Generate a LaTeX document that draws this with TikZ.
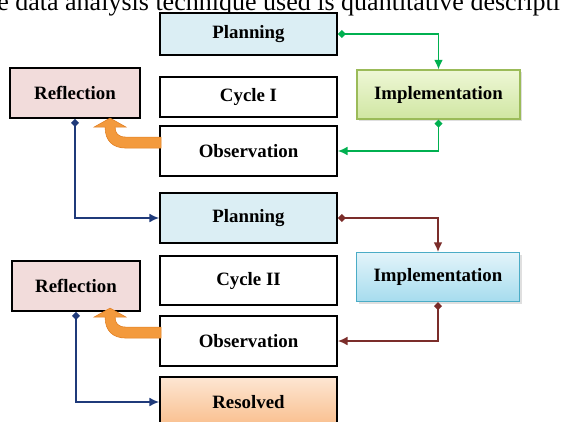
\documentclass[tikz,border=0pt]{standalone}
\usepackage{fontspec}
\setmainfont{Liberation Serif}
\usetikzlibrary{arrows.meta,shadows}

\definecolor{planblue}{HTML}{DBEEF4}
\definecolor{reflpink}{HTML}{F2DCDB}
\definecolor{implgreenA}{HTML}{EEF7D6}
\definecolor{implgreenB}{HTML}{D0E6A2}
\definecolor{implgreenline}{HTML}{9BBB59}
\definecolor{implcyanA}{HTML}{E3F4FA}
\definecolor{implcyanB}{HTML}{A6DCEE}
\definecolor{implcyanline}{HTML}{4BACC6}
\definecolor{resA}{HTML}{FDE6D3}
\definecolor{resB}{HTML}{F9BE8C}
\definecolor{linegreen}{HTML}{00B050}
\definecolor{linenavy}{HTML}{1F3A7A}
\definecolor{linebrown}{HTML}{7B2D2A}
\definecolor{bendorange}{HTML}{F39A3D}
\definecolor{bendedge}{HTML}{E07F22}

\begin{document}
\begin{tikzpicture}[x=0.025cm,y=-0.025cm,
    box/.style={draw=black,line width=1.3pt,minimum width=4.425cm,
      font=\bfseries\fontsize{13.4}{15}\selectfont,inner sep=0pt},
    implbox/.style={box,line width=0.8pt,minimum width=4.075cm,minimum height=1.225cm,
      drop shadow={opacity=0.25,shadow xshift=0.6mm,shadow yshift=-0.6mm}},
    conn/.style={line width=1pt,
      {Diamond[length=2mm,width=2mm]}-{Latex[length=2.4mm,width=2.2mm]}}]
    \useasboundingbox (0,0) rectangle (565,421);
    \clip (0,0) rectangle (565,421);

    % text line cut off above the figure
    \node[anchor=base west,inner sep=0pt,font=\fontsize{18.5}{20}\selectfont] (caption) at (-3,10)
      {e data analysis technique used is quantitative descripti};

    % cycle I
    \node[box,fill=planblue,minimum height=1.05cm] (planA) at (248.5,34) {Planning};
    \node[box,fill=white,minimum height=1cm] (cycA) at (248.5,97) {Cycle I};
    \node[box,fill=white,minimum height=1.25cm] (obsA) at (248.5,151) {Observation};
    \node[box,fill=reflpink,minimum width=3.25cm,minimum height=1.25cm] (reflA) at (75,93) {Reflection};
    \node[implbox,draw=implgreenline,top color=implgreenA,bottom color=implgreenB] (impA) at (438.5,94.5) {Implementation};

    % cycle II
    \node[box,fill=planblue,minimum height=1.25cm] (planB) at (248.5,218) {Planning};
    \node[box,fill=white,minimum height=1.225cm] (cycB) at (248.5,280.5) {Cycle II};
    \node[box,fill=white,minimum height=1.25cm] (obsB) at (248.5,341) {Observation};
    \node[box,fill=reflpink,minimum width=3.2cm,minimum height=1.25cm] (reflB) at (76,286) {Reflection};
    \node[implbox,draw=implcyanline,top color=implcyanA,bottom color=implcyanB] (impB) at (438,277) {Implementation};

    \node[box,top color=resA,bottom color=resB,minimum height=1.25cm] (resolved) at (248.5,402) {Resolved};

    % connectors
    \draw[conn,linegreen] (planA.east) -| (impA.north);
    \draw[conn,linegreen] (impA.south) |- (obsA.east);
    \draw[conn,linenavy] (reflA.south) |- (planB.west);
    \draw[conn,linebrown] (planB.east) -| (impB.north);
    \draw[conn,linebrown] (impB.south) |- (obsB.east);
    \draw[conn,linenavy] (reflB.south) |- (resolved.west);

    % bent arrows from observation up to reflection
    \foreach \obs in {obsA,obsB}{
      \begin{scope}[shift={(\obs.north west)}]
        \fill[bendorange,draw=bendedge,line width=0.4pt]
          (2,12) -- (-33,12) .. controls (-41,12) and (-44,8) .. (-44,2)
          -- (-33,2) -- (-49,-7) -- (-65,2) -- (-54,2)
          .. controls (-54,16) and (-46,23) .. (-33,23) -- (2,23) -- cycle;
      \end{scope}
    }
\end{tikzpicture}
\end{document}
